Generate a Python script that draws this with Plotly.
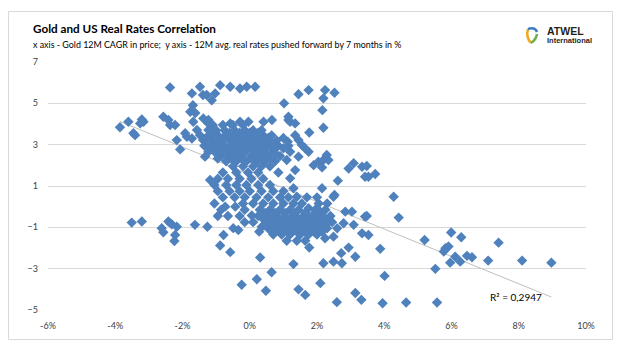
import plotly.graph_objects as go

# ---- data (x: Gold 12M CAGR in %, y: 12M avg real rates pushed fwd 7m in %) ----
x_outer = [-3.86, -3.61, -3.21, -3.26, -3.16, -3.46, -3.41, -2.57, -2.42, -2.37, -2.22, -2.17, -2.07, -1.92, -1.87,
           -1.72, -1.57, -1.48, -1.39, -1.33, -1.23, -1.18,
           -2.37, -1.48, -1.72, -1.39, -1.69, -1.77, -1.62, -1.68, -1.38, -1.24,
           -0.88, -0.58, -0.29, -0.09, 0.16, -1.03, -1.13, -1.28, 1.02,
           -0.58, -0.29, -0.04, 0.41, 0.66, 1.15, -1.23, -1.23,
           -3.51, -3.21, -2.62, -2.57, -2.42, -2.32, -2.17, -2.22, -2.24, -1.63, -1.26,
           -0.78, -0.88, -0.58, -0.49, -0.34, 0.06, 0.28, 0.36, 0.31, 0.65, 0.21, -0.24, 0.48, -0.73, -0.43,
           1.45, 1.75, 2.24, 2.52, 2.19, 2.16, 2.19, 1.77, 1.15, 1.20, 1.35, 1.13, 1.35, 1.45, 1.55, 1.65, 1.75,
           1.20, 1.45, 1.10, 1.35, 1.90, 2.04, 2.19, 2.29, 2.34, 2.15, 2.94, 3.09, 3.34, 3.43, 2.62, 2.15, 2.52,
           1.20, 1.30, 1.40,
           2.49, 1.75, 2.10, 2.84, 3.04, 3.43, 2.79, 3.09, 3.34, 2.49, 2.24, 1.77, 2.94, 2.72, 3.14, 2.49, 2.74,
           2.19, 1.30, 1.45, 1.65, 2.10, 2.59, 3.14, 3.32,
           3.48, 3.73, 3.53, 4.28, 4.43, 3.48, 3.53, 3.88, 4.01, 3.95, 4.65, 5.57, 5.20, 5.52, 5.99, 6.29, 5.82,
           5.91, 5.77, 5.96, 6.11, 6.26, 6.46, 7.40, 6.61, 7.09, 8.10, 8.97]
y_outer = [3.84, 4.11, 4.22, 4.03, 4.11, 3.55, 3.46, 4.35, 4.19, 3.95, 3.95, 3.22, 2.77, 3.55, 3.38,
           3.30, 3.71, 3.46, 3.22, 2.42, 2.66, 1.29,
           5.77, 5.80, 5.48, 5.40, 4.91, 4.59, 4.53, 4.11, 4.27, 4.04,
           5.88, 5.80, 5.72, 5.80, 5.80, 5.48, 5.15, 5.40, 5.00,
           4.03, 4.11, 4.11, 4.11, 4.19, 4.19, 4.19, 3.71,
           -0.77, -0.72, -1.04, -1.24, -0.72, -0.85, -0.97, -1.37, -1.66, -0.88, -0.97,
           -1.37, -1.88, -2.20, -1.04, -1.13, -0.43, -1.21, -0.97, -2.46, -3.17, -3.51, -3.78, -4.07, 0.00, 0.00,
           5.44, 5.64, 5.64, 5.51, 5.24, 4.67, 3.82, 3.59, 4.35, 4.11, 4.03, 3.14, 3.46, 3.22, 2.98, 2.82, 2.66,
           2.66, 2.42, 2.26, 1.77, 2.01, 2.17, 2.26, 2.50, 2.26, 1.90, 1.85, 2.10, 1.93, 1.45, 1.26, 0.89, 0.57,
           1.37, 0.89, 0.48,
           0.48, -0.08, -0.24, -0.24, -0.24, -0.48, -0.80, -0.88, -1.29, -1.45, -1.53, -1.98, -1.98, -2.25, -2.42,
           -2.66, -2.74,
           -2.74, -2.78, -4.00, -4.27, -3.70, -4.62, -4.18, -4.51,
           1.97, 1.58, 1.45, 0.48, -0.53, -0.45, -1.37, -2.04, -3.35, -4.67, -4.64, -4.64, -1.61, -3.01, -1.25,
           -1.48, -2.01,
           -1.93, -2.17, -2.71, -2.42, -2.66, -2.38, -1.74, -2.45, -2.61, -2.61, -2.71]

# dense core of the cloud, read row by row
core_rows_y = [3.95, 3.7, 3.45, 3.2, 2.95, 2.7, 2.45, 2.2, 1.95, 1.65, 1.35, 1.05, 0.75, 0.45, 0.15,
               -0.15, -0.45, -0.75, -1.05, -1.35, -1.65,
               3.58, 3.32, 3.08, 2.83, 2.58, 2.33, -0.3, -0.6, -0.9, -1.2]
core_rows_x = [
    [-1.1, -0.8, -0.5, -0.2],
    [-1.0, -0.75, -0.45, -0.15, 0.1, 0.35],
    [-1.2, -0.95, -0.7, -0.4, -0.1, 0.15, 0.4, 0.65],
    [-1.1, -0.85, -0.6, -0.3, -0.05, 0.2, 0.5, 0.8],
    [-1.35, -1.0, -0.75, -0.5, -0.25, 0.0, 0.25, 0.55, 0.85, 1.15],
    [-0.95, -0.65, -0.35, -0.1, 0.15, 0.4, 0.7],
    [-0.85, -0.55, -0.25, 0.05, 0.3, 0.55, 0.9],
    [-0.7, -0.4, -0.1, 0.2, 0.45, 0.75],
    [-0.5, -0.2, 0.1, 0.35, 0.6],
    [-0.8, -0.4, -0.05, 0.25, 0.85],
    [-0.95, -0.65, -0.3, 0.05, 0.4],
    [-1.05, -0.7, -0.4, -0.1, 0.25, 0.6],
    [-0.95, -0.6, -0.3, 0.0, 0.35, 0.7, 1.0],
    [-0.8, -0.45, -0.15, 0.2, 0.55, 0.9, 1.15, 1.7, 2.0],
    [-1.05, -0.2, 0.1, 0.4, 0.7, 1.0, 1.3, 1.55, 2.05, 2.3],
    [-0.85, -0.15, 0.3, 0.6, 0.9, 1.2, 1.45, 1.95, 2.25],
    [-0.95, -0.65, -0.3, 0.25, 0.55, 0.8, 1.05, 1.3, 1.6, 1.85, 2.15, 2.4],
    [-0.15, 0.1, 0.6, 0.85, 1.1, 1.35, 1.6, 1.9, 2.15, 2.45],
    [0.55, 0.8, 1.05, 1.3, 1.55, 1.8, 2.05, 2.3, 2.6],
    [0.7, 0.95, 1.2, 1.5, 1.75, 2.0],
    [1.1, 1.4, 1.65],
    [-1.05, -0.6, -0.3, 0.0, 0.25],
    [-1.3, -0.8, -0.5, -0.2, 0.05, 0.3, 0.55, 1.0],
    [-1.25, -0.95, -0.45, -0.15, 0.1, 0.35, 0.65],
    [-1.15, -0.85, -0.6, -0.35, -0.15, 0.1, 0.45, 0.75, 1.0],
    [-1.0, -0.7, -0.45, -0.2, 0.2, 0.45, 0.75],
    [-0.95, -0.55, -0.25, 0.05, 0.35, 0.6],
    [0.45, 0.75, 1.05, 1.35, 1.65, 2.05],
    [0.4, 0.7, 0.95, 1.2, 1.45, 1.75, 2.0, 2.3],
    [0.45, 0.7, 0.95, 1.25, 1.5, 1.75, 2.0, 2.25],
    [0.65, 0.9, 1.15, 1.4, 1.65, 1.9, 2.15],
]

# linear trend
trend_slope = -0.662
trend_intercept = 1.565
r2_text = "R² = 0,2947"

x_ticks = [-6, -4, -2, 0, 2, 4, 6, 8, 10]
x_tick_text = ["-6%", "-4%", "-2%", "0%", "2%", "4%", "6%", "8%", "10%"]
y_ticks = [7, 5, 3, 1, -1, -3, -5]

# ---- assemble ----
xs = list(x_outer)
ys = list(y_outer)
for yv, row in zip(core_rows_y, core_rows_x):
    for xv in row:
        xs.append(xv)
        ys.append(yv)

W, H = 624, 361
ML, MR, MT, MB = 48, 38, 62, 51
PW, PH = W - ML - MR, H - MT - MB


def X(px):
    return (px - ML) / PW


def Y(py):
    return (H - MB - py) / PH


FONT = "Lato, 'Open Sans', sans-serif"
BLUE = "#4F81BD"

fig = go.Figure()
tx0, tx1 = min(xs), max(xs)
fig.add_trace(go.Scatter(
    x=[tx0, tx1], y=[trend_intercept + trend_slope * tx0, trend_intercept + trend_slope * tx1],
    mode="lines", line=dict(color="#BFBFBF", width=1), hoverinfo="skip", showlegend=False))
fig.add_trace(go.Scatter(
    x=xs, y=ys, mode="markers",
    marker=dict(symbol="diamond", size=8, color=BLUE, line=dict(width=0)),
    showlegend=False))

fig.update_layout(
    width=W, height=H, margin=dict(l=ML, r=MR, t=MT, b=MB, pad=0),
    paper_bgcolor="white", plot_bgcolor="white",
    font=dict(family=FONT, size=10, color="#000000"),
    xaxis=dict(range=[-6, 10], tickvals=x_ticks, ticktext=x_tick_text, showgrid=False, zeroline=False,
               showline=False, ticks="", ticklabelstandoff=9, tickfont=dict(size=9, color="#404040")),
    yaxis=dict(range=[-5, 7], tickvals=y_ticks, showgrid=True, gridcolor="#D9D9D9", gridwidth=1,
               zeroline=False, showline=False, ticks="", ticklabelstandoff=9,
               tickfont=dict(size=9, color="#404040")),
)

# chart border
fig.add_shape(type="rect", xref="paper", yref="paper", x0=X(8.5), x1=X(612.5), y0=Y(339.5), y1=Y(11.5),
              line=dict(color="#D9D9D9", width=1), fillcolor="rgba(0,0,0,0)", layer="below")

# titles
fig.add_annotation(xref="paper", yref="paper", x=X(31), y=Y(28), xanchor="left", yanchor="middle",
                   text="<b>Gold and US Real Rates Correlation</b>", showarrow=False,
                   font=dict(family=FONT, size=11.7, color="#000000"))
fig.add_annotation(xref="paper", yref="paper", x=X(31), y=Y(44), xanchor="left", yanchor="middle",
                   text="x axis - Gold 12M CAGR in price;  y axis - 12M avg. real rates pushed forward by 7 months in %",
                   showarrow=False, font=dict(family=FONT, size=8.9, color="#000000"))

# R² label
fig.add_annotation(x=7.10, y=-4.36, xanchor="left", yanchor="middle", text=r2_text, showarrow=False,
                   font=dict(family=FONT, size=10, color="#000000"))

# logo
fig.add_annotation(xref="paper", yref="paper", x=X(545), y=Y(31), xanchor="left", yanchor="middle",
                   text="<b>ATWEL</b>", showarrow=False, font=dict(family="Liberation Sans, Arial", size=10.5, color="#1F1F1F"))
fig.add_annotation(xref="paper", yref="paper", x=X(545), y=Y(40.5), xanchor="left", yanchor="middle",
                   text="<b>International</b>", showarrow=False, font=dict(family="Liberation Sans, Arial", size=7.5, color="#1F1F1F"))

fig.add_shape(type="path", xref="paper", yref="paper",
              path=f"M {X(528):.5f},{Y(29):.5f} Q {X(525.5):.5f},{Y(37):.5f} {X(531):.5f},{Y(43):.5f}",
              line=dict(color="#F2A81D", width=2.5))
fig.add_shape(type="path", xref="paper", yref="paper",
              path=f"M {X(528):.5f},{Y(29):.5f} Q {X(535):.5f},{Y(26.5):.5f} {X(537):.5f},{Y(32):.5f}",
              line=dict(color="#3B7DC4", width=2.5))
fig.add_shape(type="path", xref="paper", yref="paper",
              path=f"M {X(531):.5f},{Y(43):.5f} Q {X(536):.5f},{Y(40):.5f} {X(537):.5f},{Y(34):.5f}",
              line=dict(color="#6AB04C", width=2.5))

fig.write_html("out.html", config={"displayModeBar": False},
               post_script="document.body.style.margin='0';")
